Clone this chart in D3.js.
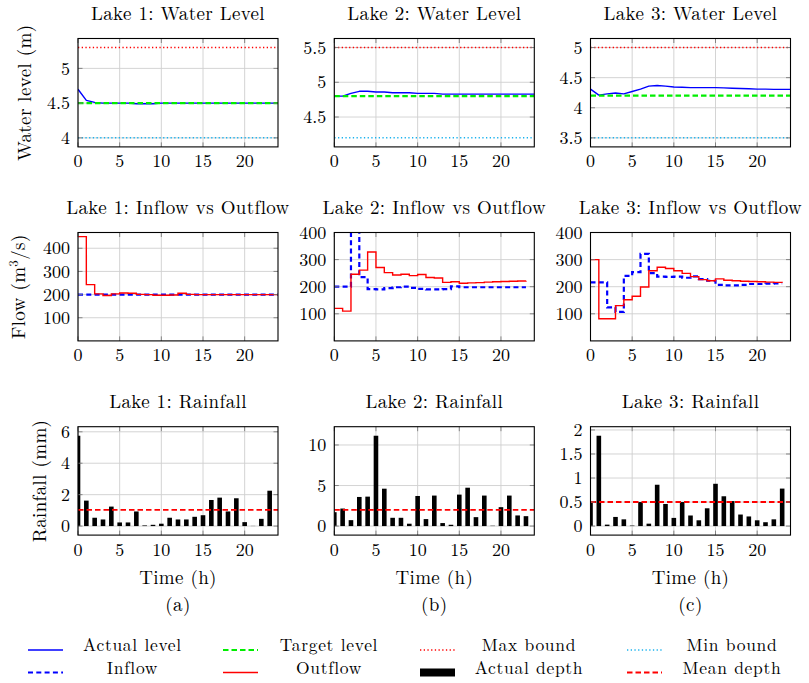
<!DOCTYPE html>
<html>
<head>
<meta charset="utf-8">
<script src="https://cdn.jsdelivr.net/npm/d3@7/dist/d3.min.js"></script>
<style>
body { margin: 0; background: #fff; }
svg text { font-family: "Latin Modern Roman", "Liberation Serif", serif; fill: #000; }
</style>
</head>
<body>
<svg id="svg" width="809" height="683"></svg>
<script>
var lakes = ["Lake 1", "Lake 2", "Lake 3"];
var subLabels = ["(a)", "(b)", "(c)"];
var timeTicks = [0, 5, 10, 15, 20];

// water level (m), one value per hour 0..24
var level1 = [4.70, 4.54, 4.51, 4.50, 4.50, 4.50, 4.50, 4.49, 4.49, 4.49, 4.50, 4.50, 4.50,
              4.50, 4.50, 4.50, 4.50, 4.50, 4.50, 4.50, 4.50, 4.50, 4.50, 4.50, 4.50];
var level2 = [4.80, 4.80, 4.84, 4.87, 4.87, 4.86, 4.86, 4.85, 4.85, 4.85, 4.84, 4.84, 4.84,
              4.83, 4.83, 4.83, 4.83, 4.83, 4.83, 4.83, 4.83, 4.83, 4.83, 4.83, 4.83];
var level3 = [4.31, 4.21, 4.23, 4.245, 4.23, 4.27, 4.31, 4.36, 4.37, 4.36, 4.345, 4.34, 4.335,
              4.335, 4.335, 4.335, 4.33, 4.325, 4.32, 4.315, 4.31, 4.31, 4.305, 4.305, 4.305];
var targetLevel = [4.5, 4.8, 4.2];
var maxBound = [5.3, 5.5, 5.0];
var minBound = [4.0, 4.2, 3.5];
var levelTicks = [[4, 4.5, 5], [4.5, 5, 5.5], [3.5, 4, 4.5, 5]];

// flow (m3/s), held constant over each hour
var inflow1 = [200, 200, 200, 200, 200, 200, 200, 200, 200, 200, 200, 200, 200,
               200, 200, 200, 200, 200, 200, 200, 200, 200, 200, 200, 200];
var outflow1 = [450, 243, 203, 196, 203, 207, 206, 201, 200, 197, 197, 198, 206,
                201, 200, 200, 200, 200, 200, 200, 200, 200, 200, 200, 200];
var inflow2 = [200, 200, 460, 235, 191, 190, 195, 198, 200, 196, 192, 190,
               190, 191, 201, 198, 198, 198, 198, 198, 198, 198, 198, 198];
var outflow2 = [120, 110, 246, 261, 328, 271, 252, 243, 246, 241, 245, 234,
                232, 216, 218, 213, 214, 215, 217, 218, 219, 220, 221, 222];
var inflow3 = [216, 216, 124, 107, 240, 254, 321, 250, 237, 236, 237, 233,
               238, 228, 222, 207, 205, 205, 207, 210, 210, 211, 212, 212];
var outflow3 = [300, 82, 82, 130, 152, 165, 199, 259, 272, 267, 259, 249,
                237, 226, 222, 229, 224, 222, 220, 219, 218, 217, 216, 215];
var flowMax = [468, 400, 400];
var flowTicks = [100, 200, 300, 400];

// rainfall depth (mm) per hour 0..23
var rain1 = [5.75, 1.62, 0.53, 0.42, 1.24, 0.23, 0.23, 0.93, 0.04, 0.08, 0.15, 0.53,
             0.42, 0.42, 0.59, 0.69, 1.66, 1.81, 0.93, 1.77, 0.25, 0.01, 0.46, 2.25];
var rain2 = [1.71, 2.16, 0.73, 3.59, 3.63, 11.14, 4.61, 1.02, 1.02, 0.29, 3.71, 0.86,
             3.76, 0.37, 0.16, 3.88, 4.73, 1.10, 3.76, 0.04, 2.33, 3.76, 1.31, 1.22];
var rain3 = [0.50, 1.88, 0.03, 0.19, 0.14, 0.01, 0.50, 0.05, 0.86, 0.46, 0.17, 0.50,
             0.22, 0.12, 0.37, 0.88, 0.62, 0.52, 0.24, 0.20, 0.12, 0.08, 0.14, 0.78];
var meanDepth = [1.03, 2.0, 0.5];
var rainTicks = [[0, 2, 4, 6], [0, 5, 10], [0, 0.5, 1, 1.5, 2]];

var levels = [level1, level2, level3];
var inflows = [inflow1, inflow2, inflow3];
var outflows = [outflow1, outflow2, outflow3];
var rains = [rain1, rain2, rain3];

var colLeft = [78, 334.3, 590.5];
var rowTop = [38.5, 232.5, 426.7];
var plotW = 200, plotH = 108.4;
var fs = 19;
var tickFs = 18;
var ls = 0.35;

var BLUE = "#0000ff", GREEN = "#00ee00", RED = "#ff0000", CYAN = "#1ab2ee";
var DOT = "1.3,2.4";

var svg = d3.select("#svg");
svg.selectAll("*").remove();
var defs = svg.append("defs");

// pgfplots style enlarge limits: 10% of data range each side
function enlarge(lo, hi) {
    var r = hi - lo;
    return [lo - 0.1 * r, hi + 0.1 * r];
}

function makePanel(row, col, yDomain, yTicks, title) {
    var left = colLeft[col], top = rowTop[row];
    var g = svg.append("g").attr("transform", `translate(${left}, ${top})`);
    var x = d3.scaleLinear().domain([0, 24]).range([0, plotW]);
    var y = d3.scaleLinear().domain(yDomain).range([plotH, 0]);

    var cid = "clip" + row + col;
    defs.append("clipPath").attr("id", cid)
        .append("rect").attr("x", 0).attr("y", 0).attr("width", plotW).attr("height", plotH);

    // grid
    g.append("g").selectAll("line").data(timeTicks).join("line")
        .attr("x1", d => x(d)).attr("x2", d => x(d))
        .attr("y1", 0).attr("y2", plotH)
        .attr("stroke", "#cfcfcf").attr("stroke-width", 0.9);
    g.append("g").selectAll("line").data(yTicks).join("line")
        .attr("x1", 0).attr("x2", plotW)
        .attr("y1", d => y(d)).attr("y2", d => y(d))
        .attr("stroke", "#cfcfcf").attr("stroke-width", 0.9);

    var plot = g.append("g").attr("clip-path", `url(#${cid})`);
    var axes = g.append("g");

    // small inner ticks on all four sides
    var tl = 4.5;
    timeTicks.forEach(d => {
        axes.append("line").attr("x1", x(d)).attr("x2", x(d)).attr("y1", plotH).attr("y2", plotH - tl);
        axes.append("line").attr("x1", x(d)).attr("x2", x(d)).attr("y1", 0).attr("y2", tl);
    });
    yTicks.forEach(d => {
        axes.append("line").attr("x1", 0).attr("x2", tl).attr("y1", y(d)).attr("y2", y(d));
        axes.append("line").attr("x1", plotW).attr("x2", plotW - tl).attr("y1", y(d)).attr("y2", y(d));
    });
    axes.selectAll("line").attr("stroke", "#7a7a7a").attr("stroke-width", 0.9);

    axes.append("rect").attr("width", plotW).attr("height", plotH)
        .attr("fill", "none").attr("stroke", "#000").attr("stroke-width", 1.1);

    // tick labels
    axes.selectAll(".xt").data(timeTicks).join("text").attr("class", "xt")
        .attr("x", d => x(d)).attr("y", plotH + 20.5)
        .attr("text-anchor", "middle").attr("font-size", tickFs)
        .text(d => d);
    axes.selectAll(".yt").data(yTicks).join("text").attr("class", "yt")
        .attr("x", -8).attr("y", d => y(d) + 6.2)
        .attr("text-anchor", "end").attr("font-size", tickFs)
        .text(d => d);

    g.append("text")
        .attr("x", plotW / 2).attr("y", -18.5)
        .attr("text-anchor", "middle").attr("font-size", fs)
        .attr("letter-spacing", ls)
        .text(title);

    return {g: g, plot: plot, x: x, y: y};
}

function hline(p, v, color, width, dash) {
    p.plot.append("path")
        .datum([0, 24])
        .attr("fill", "none")
        .attr("stroke", color)
        .attr("stroke-width", width)
        .attr("stroke-dasharray", dash)
        .attr("d", d3.line().x(d => p.x(d)).y(() => p.y(v)));
}

// rotated axis title; parts = [[text, superscript?, back down?], ...]
function yLabel(parts, xBase, row) {
    var yc = rowTop[row] + plotH / 2;
    var t = svg.append("text")
        .attr("transform", `translate(${xBase}, ${yc}) rotate(-90)`)
        .attr("text-anchor", "middle").attr("font-size", fs)
        .attr("letter-spacing", ls);
    parts.forEach(pp => {
        var s = t.append("tspan").text(pp[0]);
        if (pp[1]) s.attr("font-size", 13).attr("dy", -7);
        else if (pp[2]) s.attr("dy", 7);
    });
}

for (var i = 0; i < 3; i++) {
    // water level
    var p = makePanel(0, i, enlarge(minBound[i], maxBound[i]), levelTicks[i], lakes[i] + ": Water Level");
    p.plot.append("path")
        .datum(levels[i])
        .attr("fill", "none")
        .attr("stroke", BLUE)
        .attr("stroke-width", 1.4)
        .attr("stroke-linejoin", "round")
        .attr("d", d3.line().x((d, k) => p.x(k)).y(d => p.y(d)));
    hline(p, targetLevel[i], GREEN, 2.2, "5.5,3");
    hline(p, maxBound[i], RED, 1.5, DOT);
    hline(p, minBound[i], CYAN, 1.5, DOT);

    // inflow vs outflow
    var q = makePanel(1, i, [0, flowMax[i]], flowTicks, lakes[i] + ": Inflow vs Outflow");
    var step = d3.line().curve(d3.curveStepAfter).x((d, k) => q.x(k)).y(d => q.y(d));
    q.plot.append("path")
        .datum(inflows[i])
        .attr("fill", "none")
        .attr("stroke", BLUE)
        .attr("stroke-width", 2.2)
        .attr("stroke-dasharray", "5,3.3")
        .attr("d", step);
    q.plot.append("path")
        .datum(outflows[i])
        .attr("fill", "none")
        .attr("stroke", RED)
        .attr("stroke-width", 1.4)
        .attr("d", step);

    // rainfall
    var r = makePanel(2, i, enlarge(0, d3.max(rains[i])), rainTicks[i], lakes[i] + ": Rainfall");
    r.plot.selectAll("rect").data(rains[i]).join("rect")
        .attr("x", (d, k) => r.x(k) - 2.3)
        .attr("width", 4.6)
        .attr("y", d => r.y(d))
        .attr("height", d => r.y(0) - r.y(d))
        .attr("fill", "#000");
    hline(r, meanDepth[i], RED, 1.9, "5.5,3");

    r.g.append("text")
        .attr("x", plotW / 2).attr("y", plotH + 48.5)
        .attr("text-anchor", "middle").attr("font-size", fs)
        .attr("letter-spacing", ls)
        .text("Time (h)");
    r.g.append("text")
        .attr("x", plotW / 2).attr("y", plotH + 76)
        .attr("text-anchor", "middle").attr("font-size", fs)
        .attr("letter-spacing", ls)
        .text(subLabels[i]);
}

yLabel([["Water level (m)"]], 31, 0);
yLabel([["Flow (m"], ["3", true], ["/s)", false, true]], 25, 1);
yLabel([["Rainfall (mm)"]], 46, 2);

// legend, 2 rows x 4 columns
var legendItems = [
    {name: "Actual level", kind: "line", color: BLUE, w: 1.4, dash: null},
    {name: "Target level", kind: "line", color: GREEN, w: 2.2, dash: "5.5,3"},
    {name: "Max bound", kind: "line", color: RED, w: 1.5, dash: DOT},
    {name: "Min bound", kind: "line", color: CYAN, w: 1.5, dash: DOT},
    {name: "Inflow", kind: "line", color: BLUE, w: 2.2, dash: "5,3.3"},
    {name: "Outflow", kind: "line", color: RED, w: 1.4, dash: null},
    {name: "Actual depth", kind: "bar", color: "#000"},
    {name: "Mean depth", kind: "line", color: RED, w: 1.9, dash: "5.5,3"}
];
var legSampleX = [28, 223, 420, 627];
var legTextX = [132.5, 329, 529, 732];
var legLineY = [650, 672.5];
var legTextY = [650.5, 674];
var sampleW = 35;
var legFs = 17.5;

var leg = svg.append("g");
legendItems.forEach((d, k) => {
    var c = k % 4, rr = Math.floor(k / 4);
    if (d.kind == "bar") {
        leg.append("rect")
            .attr("x", legSampleX[c]).attr("y", legLineY[rr] - 4)
            .attr("width", sampleW).attr("height", 8)
            .attr("fill", d.color);
    } else {
        leg.append("line")
            .attr("x1", legSampleX[c]).attr("x2", legSampleX[c] + sampleW)
            .attr("y1", legLineY[rr]).attr("y2", legLineY[rr])
            .attr("stroke", d.color).attr("stroke-width", d.w)
            .attr("stroke-dasharray", d.dash);
    }
    leg.append("text")
        .attr("x", legTextX[c]).attr("y", legTextY[rr])
        .attr("text-anchor", "middle").attr("font-size", legFs)
        .attr("letter-spacing", 0.7)
        .text(d.name);
});
</script>
</body>
</html>
